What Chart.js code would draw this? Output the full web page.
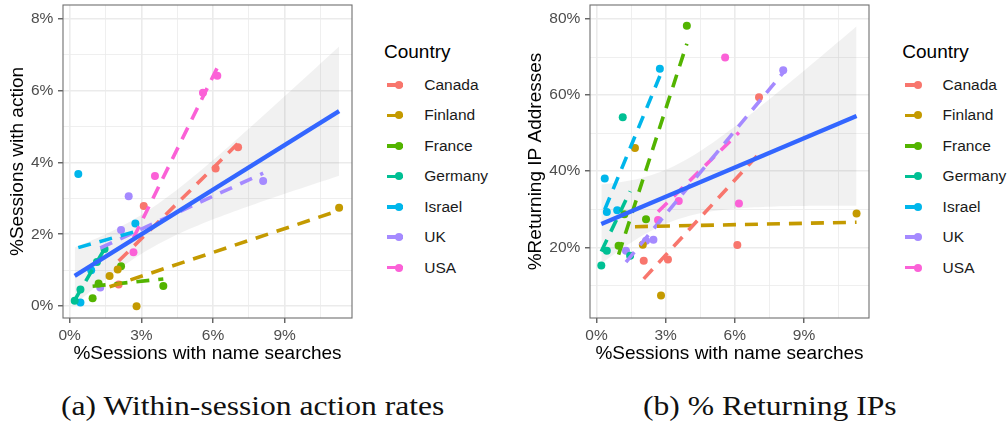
<!DOCTYPE html>
<html>
<head>
<meta charset="utf-8">
<script src="https://cdn.jsdelivr.net/npm/chart.js@4.4.0/dist/chart.umd.min.js"></script>
<style>
  body { margin:0; background:#fff; width:1008px; height:428px; position:relative; overflow:hidden;
         font-family:"Liberation Sans", Arial, sans-serif; }
  canvas { position:absolute; top:0; }
  #chartA { left:0; }
  #chartB { left:517px; }
  .legend-title { position:absolute; font-size:19px; line-height:22px; color:#000; white-space:nowrap; }
  .legend-item { position:absolute; height:20px; width:120px; }
  .key-line { position:absolute; left:0; top:8.2px; width:16px; height:3.6px; }
  .key-dot { position:absolute; left:8.6px; top:6px; width:8px; height:8px; border-radius:50%; }
  .key-label { position:absolute; left:37.6px; top:0; font-size:15.5px; line-height:20px; color:#1a1a1a; white-space:nowrap; }
  .caption { position:absolute; top:393px; font-family:"Liberation Serif", serif; font-size:27px; line-height:27px;
             transform-origin:0 0; transform:scaleX(1.17); white-space:nowrap; color:#111; }
</style>
</head>
<body>
<canvas id="chartA" width="356" height="372"></canvas>
<canvas id="chartB" width="356" height="372"></canvas>
<div class="caption" style="left:61px">(a) Within-session action rates</div>
<div class="caption" style="left:643px">(b) % Returning IPs</div>
<script>
// one row per country, 4 observations each (same x in both panels)
const countries = ["Canada", "Finland", "France", "Germany", "Israel", "UK", "USA"];
const countryColors = ["#F8766D", "#C49A00", "#53B400", "#00C094", "#00B6EB", "#A58AFF", "#FB61D7"];

const nameSearchPct = [
  [2.05, 3.1, 6.11, 7.05],
  [1.67, 2.01, 2.8, 11.28],
  [0.96, 1.21, 2.15, 3.92],
  [0.21, 0.45, 1.14, 1.46],
  [0.36, 0.45, 0.9, 2.75],
  [1.28, 2.15, 2.47, 8.1],
  [2.67, 3.57, 5.58, 6.18]
];
const actionPct = [
  [0.6, 2.79, 3.83, 4.42],
  [0.84, 1.02, 0.0, 2.74],
  [0.22, 0.63, 1.11, 0.56],
  [0.15, 0.46, 1.23, 1.59],
  [3.68, 0.1, 1.0, 2.3],
  [0.52, 2.12, 3.06, 3.48],
  [1.5, 3.62, 5.94, 6.41]
];
const returningIpPct = [
  [16.5, 16.8, 20.6, 59.4],
  [46.1, 20.7, 7.35, 28.9],
  [20.4, 28.7, 27.4, 78.2],
  [15.2, 19.1, 54.2, 17.8],
  [38.1, 29.3, 29.75, 66.9],
  [19.1, 21.7, 22.0, 66.5],
  [27.2, 32.2, 69.9, 31.5]
];

const xMajorTicks = [0, 3, 6, 9];
const actionTicks = [0, 2, 4, 6, 8];
const returningTicks = [20, 40, 60, 80];

const FONT = "'Liberation Sans', Arial, sans-serif";

function linFit(xs, ys) {
  const n = xs.length;
  const mx = xs.reduce((a, b) => a + b, 0) / n;
  const my = ys.reduce((a, b) => a + b, 0) / n;
  let sxx = 0, sxy = 0;
  for (let i = 0; i < n; i++) {
    sxx += (xs[i] - mx) ** 2;
    sxy += (xs[i] - mx) * (ys[i] - my);
  }
  const slope = sxy / sxx, icpt = my - slope * mx;
  let sse = 0;
  for (let i = 0; i < n; i++) sse += (ys[i] - icpt - slope * xs[i]) ** 2;
  return { n, mx, sxx, slope, icpt, s: Math.sqrt(sse / (n - 2)) };
}

function buildDatasets(yValues) {
  const sets = [];
  const allX = [], allY = [];
  nameSearchPct.forEach((xs, i) => { allX.push(...xs); allY.push(...yValues[i]); });
  const f = linFit(allX, allY);
  const xmin = Math.min(...allX), xmax = Math.max(...allX);
  const pred = x => f.icpt + f.slope * x;
  const t = 2.0555; // t(0.975, 26)
  const lo = [], hi = [];
  for (let k = 0; k <= 60; k++) {
    const x = xmin + (xmax - xmin) * k / 60;
    const se = f.s * Math.sqrt(1 / f.n + (x - f.mx) ** 2 / f.sxx);
    lo.push({ x, y: pred(x) - t * se });
    hi.push({ x, y: pred(x) + t * se });
  }
  sets.push({ type: "line", data: [{ x: xmin, y: pred(xmin) }, { x: xmax, y: pred(xmax) }],
    borderColor: "#3366FF", borderWidth: 4.3, pointRadius: 0, order: 0 });
  sets.push({ type: "line", data: lo, borderWidth: 0, pointRadius: 0, fill: false, order: 5 });
  sets.push({ type: "line", data: hi, borderWidth: 0, pointRadius: 0, fill: 1,
    backgroundColor: "rgba(0,0,0,0.055)", order: 5 });

  countries.forEach((c, i) => {
    const xs = nameSearchPct[i], ys = yValues[i];
    const cf = linFit(xs, ys);
    const a = Math.min(...xs), b = Math.max(...xs);
    sets.push({ type: "line", data: [{ x: a, y: cf.icpt + cf.slope * a }, { x: b, y: cf.icpt + cf.slope * b }],
      borderColor: countryColors[i], borderWidth: 3.6, borderDash: [13, 9], borderCapStyle: "butt",
      pointRadius: 0, order: 1 });
    sets.push({ type: "scatter", data: xs.map((x, j) => ({ x, y: ys[j] })),
      backgroundColor: countryColors[i], borderWidth: 0, pointRadius: 4, order: 2 });
  });
  return sets;
}

const isMajor = (majors, v) => majors.some(m => Math.abs(m - v) < 1e-6);

function axis(min, max, step, majors, title, titlePad, size, isX) {
  return {
    type: "linear", min, max,
    ticks: {
      stepSize: step, includeBounds: false, autoSkip: false, maxRotation: 0,
      padding: isX ? 3 : 4.7, color: "#4D4D4D", font: { size: 15.5, family: FONT },
      callback: v => isMajor(majors, v) ? v + "%" : ""
    },
    grid: {
      color: "#EBEBEB",
      lineWidth: ctx => ctx.tick && isMajor(majors, ctx.tick.value) ? 1.6 : 0.8,
      tickColor: ctx => ctx.tick && isMajor(majors, ctx.tick.value) ? "#333333" : "rgba(0,0,0,0)",
      tickLength: 5, tickWidth: 1.1
    },
    border: { display: false },
    title: { display: true, text: title, color: "#000", font: { size: 19, family: FONT }, padding: titlePad },
    afterFit: s => {
      // fixed axis box, and no label overhang pushing the panel in
      if (isX) s.height = size; else s.width = size;
      s.paddingTop = 0; s.paddingBottom = 0; s.paddingLeft = 0; s.paddingRight = 0;
    }
  };
}

const panelBorder = {
  id: "panelBorder",
  afterDatasetsDraw(chart) {
    const { ctx, chartArea: a } = chart;
    ctx.save();
    ctx.strokeStyle = "#6f6f6f";
    ctx.lineWidth = 1.1;
    ctx.strokeRect(a.left, a.top, a.right - a.left, a.bottom - a.top);
    ctx.restore();
  }
};

function makeChart(id, yValues, yMin, yMax, yStep, yMajors, yTitle, yWidth, yTitlePad, padRight) {
  return new Chart(document.getElementById(id), {
    type: "scatter",
    data: { datasets: buildDatasets(yValues) },
    options: {
      responsive: false, animation: false, events: [],
      layout: { padding: { top: 5, right: padRight, left: 0, bottom: 0 } },
      plugins: { legend: { display: false }, tooltip: { enabled: false } },
      scales: {
        x: axis(-0.28, 11.82, 1.5, xMajorTicks, "%Sessions with name searches", { top: 0, bottom: 6.6 }, 54, true),
        y: axis(yMin, yMax, yStep, yMajors, yTitle, { top: yTitlePad, bottom: 0 }, yWidth, false)
      }
    },
    plugins: [panelBorder]
  });
}

makeChart("chartA", actionPct, -0.33, 8.38, 1, actionTicks, "%Sessions with action", 63, 6, 3);
makeChart("chartB", returningIpPct, 1.44, 83.66, 10, returningTicks, "%Returning IP Addresses", 73, 7, 1);

function buildLegend(left) {
  const title = document.createElement("div");
  title.className = "legend-title";
  title.textContent = "Country";
  title.style.left = left + "px";
  title.style.top = (51.7 - 11) + "px";
  document.body.appendChild(title);
  countries.forEach((c, i) => {
    const cy = 85 + 30.45 * i;
    const item = document.createElement("div");
    item.className = "legend-item";
    item.style.left = (left + 2.7) + "px";
    item.style.top = (cy - 10) + "px";
    item.innerHTML = '<span class="key-line" style="background:' + countryColors[i] + '"></span>' +
      '<span class="key-dot" style="background:' + countryColors[i] + '"></span>' +
      '<span class="key-label">' + c + '</span>';
    document.body.appendChild(item);
  });
}
buildLegend(384);
buildLegend(902.3);
</script>
</body>
</html>
